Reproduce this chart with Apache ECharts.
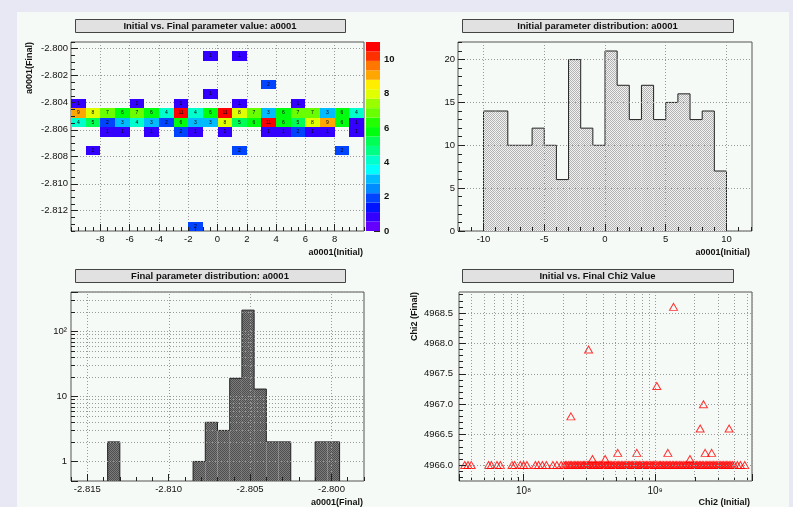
<!DOCTYPE html>
<html>
<head>
<meta charset="utf-8">
<script src="https://cdn.jsdelivr.net/npm/echarts@6/dist/echarts.min.js"></script>
<style>
  html, body { margin: 0; padding: 0; background: #e8e8f4; }
  #chart { width: 793px; height: 507px; }
</style>
</head>
<body>
<div id="chart"></div>
<script>
// ---------- data ----------
// initial parameter: 20 bins of width 1 between -10 and 10
const INIT_W = 1;
const initBinLow = [-10, -9, -8, -7, -6, -5, -4, -3, -2, -1, 0, 1, 2, 3, 4, 5, 6, 7, 8, 9];
const initCounts = [14, 14, 10, 10, 12, 10, 6, 20, 12, 10, 21, 17, 13, 17, 13, 15, 16, 13, 14, 7];

// 2D plot: final parameter rows (bin width 0.0007), one count per initial bin
const FINAL_W2D = 0.0007;
const finalRowLow = [-2.8135, -2.8079, -2.8065, -2.8058, -2.8051, -2.8044, -2.8037, -2.8030, -2.8009];
const finalRowCounts = [
  [0, 0, 0, 0, 0, 0, 0, 0, 2, 0, 0, 0, 0, 0, 0, 0, 0, 0, 0, 0],
  [0, 1, 0, 0, 0, 0, 0, 0, 0, 0, 0, 2, 0, 0, 0, 0, 0, 0, 2, 0],
  [0, 0, 1, 1, 0, 1, 0, 2, 1, 0, 1, 0, 0, 1, 1, 2, 1, 1, 0, 1],
  [4, 5, 2, 3, 4, 3, 2, 6, 3, 3, 8, 5, 6, 11, 6, 5, 8, 9, 6, 1],
  [9, 8, 7, 6, 7, 6, 4, 11, 4, 6, 11, 8, 7, 3, 6, 7, 7, 3, 6, 4],
  [1, 0, 0, 0, 1, 0, 0, 1, 0, 0, 0, 1, 0, 0, 0, 1, 0, 0, 0, 0],
  [0, 0, 0, 0, 0, 0, 0, 0, 0, 1, 0, 0, 0, 0, 0, 0, 0, 0, 0, 0],
  [0, 0, 0, 0, 0, 0, 0, 0, 0, 0, 0, 0, 0, 2, 0, 0, 0, 0, 0, 0],
  [0, 0, 0, 0, 0, 0, 0, 0, 0, 1, 0, 1, 0, 0, 0, 0, 0, 0, 0, 0]
];
const Z_MAX = 11;
const N_BANDS = 20;

// final parameter distribution (non-empty bins, width 0.00075)
const FINAL_W1D = 0.00075;
const finalBinLow = [-2.81375, -2.8085, -2.80775, -2.807, -2.80625, -2.8055, -2.80475, -2.804, -2.80325, -2.801, -2.80025];
const finalCounts = [2, 1, 4, 3, 19, 213, 13, 2, 2, 2, 2];

// chi2: initial vs final
const chi2FinalFlat = 4966.0;
const chi2InitialFlat = [
  3.57e7, 3.78e7, 4.0e7, 5.42e7, 5.69e7, 6.28e7, 6.66e7, 8.17e7, 8.55e7, 9.44e7,
  1.0e8, 1.06e8, 1.23e8, 1.3e8, 1.39e8, 1.49e8, 1.67e8, 1.79e8, 1.93e8,
  2.02e8, 2.08e8, 2.13e8, 2.2e8, 2.26e8, 2.31e8, 2.38e8, 2.45e8, 2.5e8, 2.57e8,
  2.63e8, 2.7e8, 2.78e8, 2.85e8, 2.9e8, 2.98e8, 3.05e8, 3.12e8, 3.2e8, 3.27e8,
  3.36e8, 3.44e8, 3.5e8, 3.6e8, 3.68e8, 3.77e8, 3.85e8, 3.95e8, 4.04e8, 4.15e8,
  4.24e8, 4.33e8, 4.45e8, 4.56e8, 4.67e8, 4.79e8, 4.9e8, 5.03e8, 5.15e8, 5.28e8,
  5.4e8, 5.55e8, 5.68e8, 5.82e8, 5.97e8, 6.1e8, 6.26e8, 6.4e8, 6.57e8, 6.72e8,
  6.9e8, 7.05e8, 7.24e8, 7.41e8, 7.6e8, 7.78e8, 7.98e8, 8.17e8, 8.38e8, 8.58e8,
  8.8e8, 9.02e8, 9.24e8, 9.47e8, 9.7e8, 9.94e8,
  1.02e9, 1.05e9, 1.08e9, 1.1e9, 1.13e9, 1.16e9, 1.19e9, 1.22e9, 1.25e9, 1.28e9,
  1.31e9, 1.35e9, 1.38e9, 1.42e9, 1.45e9, 1.49e9, 1.53e9, 1.57e9, 1.6e9, 1.65e9,
  1.69e9, 1.73e9, 1.78e9, 1.82e9, 1.87e9, 1.91e9, 1.96e9, 2.01e9, 2.06e9, 2.11e9,
  2.17e9, 2.22e9, 2.28e9, 2.33e9, 2.4e9, 2.46e9, 2.52e9, 2.58e9, 2.65e9, 2.71e9,
  2.78e9, 2.85e9, 2.92e9, 3.0e9, 3.07e9, 3.15e9, 3.23e9, 3.31e9, 3.4e9, 3.48e9,
  3.57e9, 3.66e9, 3.76e9, 3.87e9, 4.0e9, 4.22e9, 4.45e9, 4.8e9
];
const chi2InitialOut = [2.29e8, 3.12e8, 3.34e8, 4.17e8, 5.2e8, 7.26e8, 1.03e9, 1.25e9, 1.38e9, 1.84e9, 2.2e9, 2.33e9, 2.4e9, 2.69e9, 3.65e9];
const chi2FinalOut = [4966.8, 4967.9, 4966.1, 4966.1, 4966.2, 4966.2, 4967.3, 4966.2, 4968.6, 4966.1, 4966.6, 4967.0, 4966.2, 4966.2, 4966.6];

// tick labels / grid positions
const ticksHeatX = [-8, -6, -4, -2, 0, 2, 4, 6, 8];
const ticksHeatY = [-2.812, -2.810, -2.808, -2.806, -2.804, -2.802, -2.800];
const ticksBar = [0, 2, 4, 6, 8, 10];
const ticksInitX = [-10, -5, 0, 5, 10];
const ticksInitY = [0, 5, 10, 15, 20];
const ticksFinalX = [-2.815, -2.810, -2.805, -2.800];
const ticksChiY = [4966.0, 4966.5, 4967.0, 4967.5, 4968.0, 4968.5];
const logMajorBL = [1, 10, 100];
const logMinorBL = [2, 3, 4, 5, 6, 7, 8, 9, 20, 30, 40, 50, 60, 70, 80, 90, 200, 300, 400];
const logMinorBR = [4e7, 5e7, 6e7, 7e7, 8e7, 9e7, 2e8, 3e8, 4e8, 5e8, 6e8, 7e8, 8e8, 9e8, 2e9, 3e9, 4e9, 5e9];

// axis ranges
const BL_X = [-2.816, -2.798];
const BL_Y = [0.5, 405];
const BR_X = [3.23e7, 5.45e9];
const BR_Y = [4965.737, 4968.845];

// ---------- helpers ----------
const FONT = '"Liberation Sans", Arial, Helvetica, sans-serif';
const DOT = '#9a9a9a';
const GRID_LINE = { show: true, lineStyle: { color: DOT, type: [1, 2], width: 1 } };
const steps = (a, b, s) => {
  const out = [];
  for (let i = 0; a + i * s <= b + s * 1e-6; i++) out.push(+(a + i * s).toFixed(6));
  return out;
};
const sup = { 0: '\u2070', 1: '\u00b9', 2: '\u00b2', 8: '\u2078', 9: '\u2079' };
const logFmt = v => {
  const l = Math.log10(v), e = Math.round(l);
  if (Math.abs(l - e) > 1e-6) return '';
  if (e === 0) return '1';
  if (e === 1) return '10';
  return '10' + sup[e];
};

function mainAxis(gridIndex, min, max, ticks, fmt, extra) {
  return Object.assign({
    type: 'value', gridIndex, min, max, z: 5,
    axisLine: { show: false, onZero: false },
    axisTick: { show: true, inside: true, length: 7, customValues: ticks, lineStyle: { color: '#222' } },
    axisLabel: { customValues: ticks, formatter: fmt, fontFamily: FONT, fontSize: 9.5, color: '#111', margin: 3 },
    splitLine: GRID_LINE
  }, extra || {});
}
function minorAxis(gridIndex, min, max, ticks, position) {
  return {
    type: 'value', gridIndex, min, max, position, z: 5,
    axisLine: { show: false, onZero: false },
    axisTick: { show: true, inside: true, length: 4, customValues: ticks, lineStyle: { color: '#222' } },
    axisLabel: { show: false },
    splitLine: { show: false }
  };
}
function pattern(c1, c2) {
  const cv = document.createElement('canvas');
  cv.width = 2; cv.height = 2;
  const ctx = cv.getContext('2d');
  ctx.fillStyle = c2; ctx.fillRect(0, 0, 2, 2);
  ctx.fillStyle = c1; ctx.fillRect(0, 0, 1, 1); ctx.fillRect(1, 1, 1, 1);
  return { image: cv, repeat: 'repeat' };
}
// histogram bins -> [lo, hi, v, prev, next]
function histData(lows, counts, w, floor) {
  return lows.map((lo, i) => {
    const prevAdj = i > 0 && Math.abs(lows[i - 1] + w - lo) < w * 1e-3;
    const nextAdj = i < lows.length - 1 && Math.abs(lo + w - lows[i + 1]) < w * 1e-3;
    return [lo, +(lo + w).toFixed(6), counts[i], prevAdj ? counts[i - 1] : floor, nextAdj ? counts[i + 1] : floor];
  });
}
function histRender(fill, floor) {
  return (params, api) => {
    const lo = api.value(0), hi = api.value(1), v = api.value(2), pv = api.value(3), nv = api.value(4);
    const a = api.coord([lo, v]), b = api.coord([hi, floor]);
    const pp = api.coord([lo, pv]);
    const pts = [[a[0], pp[1]], a, [b[0], a[1]]];
    if (nv === floor) pts.push([b[0], b[1]]);
    return {
      type: 'group',
      children: [
        { type: 'rect', shape: { x: a[0], y: a[1], width: b[0] - a[0], height: b[1] - a[1] }, style: { fill } },
        { type: 'polyline', shape: { points: pts }, style: { stroke: '#222', lineWidth: 1, fill: null } }
      ]
    };
  };
}
const px = v => Math.round(v) + 0.5;

// ROOT-like 20 band palette
const bandW = Z_MAX / N_BANDS;
const pieces = [];
for (let k = 0; k < N_BANDS; k++) {
  const idx = Math.floor((k + 0.99) * 50 / N_BANDS);
  const hue = 280 - (idx + 1) * 5.6;
  pieces.push({ gte: k * bandW, lte: (k + 1) * bandW, color: `hsl(${hue.toFixed(1)},100%,50%)` });
}

const heatData = [];
finalRowLow.forEach((yLow, r) => finalRowCounts[r].forEach((n, i) => {
  if (n > 0) heatData.push([initBinLow[i], yLow, n]);
}));
const barData = pieces.map(p => [0, p.gte, p.lte, (p.gte + p.lte) / 2]);

const chiData = chi2InitialFlat.map(x => [x, chi2FinalFlat])
  .concat(chi2InitialOut.map((x, i) => [x, chi2FinalOut[i]]));

// ---------- layout helpers ----------
function titleBox(x, y, w, h, text) {
  return [
    { type: 'rect', shape: { x: x + 0.5, y: y + 0.5, width: w, height: h }, style: { fill: '#e1e1e1', stroke: '#444', lineWidth: 1 }, z: 10 },
    { type: 'text', x: x + w / 2, y: y + h / 2 + 1, z: 11,
      style: { text, font: 'bold 9.5px ' + FONT, fill: '#111', align: 'center', verticalAlign: 'middle', textAlign: 'center', textVerticalAlign: 'middle' } }
  ];
}
function axisTitle(x, y, text, rotate) {
  return { type: 'text', x, y, rotation: rotate ? Math.PI / 2 : 0, z: 11,
    style: { text, font: 'bold 9px ' + FONT, fill: '#111', align: 'right', verticalAlign: 'middle', textAlign: 'right', textVerticalAlign: 'middle' } };
}

const chart = echarts.init(document.getElementById('chart'), null, { renderer: 'canvas' });
chart.setOption({
  animation: false,
  backgroundColor: '#e8e8f4',
  graphic: [
    { type: 'rect', shape: { x: 17, y: 12, width: 772, height: 495 }, style: { fill: '#f6faf6' }, z: -100 },
    ...titleBox(75, 19, 270, 13, 'Initial vs. Final parameter value: a0001'),
    ...titleBox(462, 19, 271, 13, 'Initial parameter distribution: a0001'),
    ...titleBox(75, 269, 270, 13, 'Final parameter distribution: a0001'),
    ...titleBox(462, 269, 271, 13, 'Initial vs. Final Chi2 Value'),
    axisTitle(30, 42, 'a0001(Final)', true),
    axisTitle(363, 253, 'a0001(Initial)'),
    axisTitle(750, 253, 'a0001(Initial)'),
    axisTitle(363, 503, 'a0001(Final)'),
    axisTitle(415, 292, 'Chi2 (Final)', true),
    axisTitle(750, 503, 'Chi2 (Initial)')
  ],
  grid: [
    { left: 71, top: 42, width: 293, height: 189, show: true, borderColor: '#555', borderWidth: 1, backgroundColor: 'transparent' },
    { left: 366, top: 42, width: 14, height: 189, show: false },
    { left: 458, top: 42, width: 294, height: 189, show: true, borderColor: '#555', borderWidth: 1, backgroundColor: 'transparent' },
    { left: 71, top: 292, width: 293, height: 189, show: true, borderColor: '#555', borderWidth: 1, backgroundColor: 'transparent' },
    { left: 459, top: 292, width: 293, height: 189, show: true, borderColor: '#555', borderWidth: 1, backgroundColor: 'transparent' }
  ],
  xAxis: [
    mainAxis(0, -10, 10, ticksHeatX, v => String(v), { position: 'bottom', z: 0 }),
    minorAxis(0, -10, 10, steps(-10, 10, 0.5), 'bottom'),
    { type: 'value', gridIndex: 1, min: 0, max: 1, show: false },
    mainAxis(2, -12.1, 12.1, ticksInitX, v => String(v), { position: 'bottom' }),
    minorAxis(2, -12.1, 12.1, steps(-12, 12, 1), 'bottom'),
    mainAxis(3, BL_X[0], BL_X[1], ticksFinalX, v => v.toFixed(3), { position: 'bottom', splitLine: { show: false } }),
    minorAxis(3, BL_X[0], BL_X[1], steps(-2.816, -2.798, 0.001), 'bottom'),
    {
      type: 'log', logBase: 10, gridIndex: 4, min: BR_X[0], max: BR_X[1], position: 'bottom', z: 5,
      axisLine: { show: false, onZero: false },
      axisTick: { show: true, inside: true, length: 7, lineStyle: { color: '#222' } },
      axisLabel: { formatter: logFmt, fontFamily: FONT, fontSize: 10, color: '#111', margin: 5 },
      splitLine: GRID_LINE
    }
  ],
  yAxis: [
    mainAxis(0, -2.8135, -2.7995, ticksHeatY, v => v.toFixed(3), { position: 'left', z: 0 }),
    minorAxis(0, -2.8135, -2.7995, steps(-2.8135, -2.7995, 0.0005), 'left'),
    {
      type: 'value', gridIndex: 1, min: 0, max: Z_MAX, position: 'right',
      axisLine: { show: false, onZero: false },
      axisTick: { show: true, inside: true, length: 6, customValues: ticksBar, lineStyle: { color: '#222' } },
      axisLabel: { customValues: ticksBar, fontFamily: FONT, fontSize: 9.5, fontWeight: 'bold', color: '#111', margin: 4 },
      splitLine: { show: false }
    },
    mainAxis(2, 0, 22.05, ticksInitY, v => String(v), { position: 'left' }),
    minorAxis(2, 0, 22.05, steps(0, 22, 1), 'left'),
    {
      type: 'log', logBase: 10, gridIndex: 3, min: BL_Y[0], max: BL_Y[1], position: 'left', z: 5,
      axisLine: { show: false, onZero: false },
      axisTick: { show: true, inside: true, length: 7, lineStyle: { color: '#222' } },
      axisLabel: { formatter: logFmt, fontFamily: FONT, fontSize: 9.5, color: '#111', margin: 4 },
      splitLine: { show: false }
    },
    mainAxis(4, BR_Y[0], BR_Y[1], ticksChiY, v => v.toFixed(1), { position: 'left', axisLabel: { customValues: ticksChiY, formatter: v => v.toFixed(1), fontFamily: FONT, fontSize: 9.5, color: '#111', margin: 6 } }),
    minorAxis(4, BR_Y[0], BR_Y[1], steps(4965.8, 4968.8, 0.1), 'left')
  ],
  visualMap: [
    { type: 'piecewise', show: false, seriesIndex: 0, dimension: 2, pieces },
    { type: 'piecewise', show: false, seriesIndex: 1, dimension: 3, pieces }
  ],
  series: [
    {
      type: 'custom', xAxisIndex: 0, yAxisIndex: 0, data: heatData, encode: { x: 0, y: 1 }, z: 2,
      renderItem: (params, api) => {
        const x0 = api.value(0), y0 = api.value(1), n = api.value(2);
        const p0 = api.coord([x0, y0]), p1 = api.coord([x0 + INIT_W, y0 + FINAL_W2D]);
        const l = Math.round(p0[0]), r = Math.round(p1[0]), t = Math.round(p1[1]), b = Math.round(p0[1]);
        return {
          type: 'group',
          children: [
            { type: 'rect', shape: { x: l, y: t, width: r - l, height: b - t }, style: { fill: api.visual('color') } },
            { type: 'text', x: (l + r) / 2, y: (t + b) / 2,
              style: { text: String(n), font: '5px ' + FONT, fill: '#000', align: 'center', verticalAlign: 'middle', textAlign: 'center', textVerticalAlign: 'middle' } }
          ]
        };
      }
    },
    {
      type: 'custom', xAxisIndex: 2, yAxisIndex: 2, data: barData, encode: { x: 0, y: [1, 2] },
      renderItem: (params, api) => {
        const p0 = api.coord([0, api.value(1)]), p1 = api.coord([1, api.value(2)]);
        return { type: 'rect', shape: { x: p0[0], y: p1[1], width: p1[0] - p0[0], height: p0[1] - p1[1] }, style: { fill: api.visual('color') } };
      }
    },
    {
      type: 'custom', xAxisIndex: 3, yAxisIndex: 3, z: 2,
      data: histData(initBinLow, initCounts, INIT_W, 0), encode: { x: [0, 1], y: [2, 3, 4] },
      renderItem: histRender(pattern('#b2b2b2', '#f2f2f2'), 0)
    },
    {
      type: 'custom', xAxisIndex: 5, yAxisIndex: 5, z: 2,
      data: histData(finalBinLow, finalCounts, FINAL_W1D, BL_Y[0]), encode: { x: [0, 1], y: [2, 3, 4] },
      renderItem: histRender(pattern('#4e4e4e', '#7c7c7c'), BL_Y[0])
    },
    {
      // log-scale horizontal grid (major + minor) with minor ticks for the final distribution
      type: 'custom', xAxisIndex: 5, yAxisIndex: 5, z: 3, silent: true,
      data: logMajorBL.map(v => [BL_X[0], v, 0]).concat(logMinorBL.map(v => [BL_X[0], v, 1])),
      encode: { x: 0, y: 1 },
      renderItem: (params, api) => {
        const v = api.value(1), minor = api.value(2) === 1;
        const a = api.coord([BL_X[0], v]), b = api.coord([BL_X[1], v]);
        const y = px(a[1]);
        const kids = [{ type: 'line', shape: { x1: a[0], y1: y, x2: b[0], y2: y }, style: { stroke: DOT, lineDash: [1, 2], lineWidth: 1 } }];
        if (minor) kids.push({ type: 'line', shape: { x1: a[0], y1: y, x2: a[0] + 4, y2: y }, style: { stroke: '#222', lineWidth: 1 } });
        return { type: 'group', children: kids };
      }
    },
    {
      // vertical grid of the final distribution
      type: 'custom', xAxisIndex: 5, yAxisIndex: 5, z: 3, silent: true,
      data: ticksFinalX.map(v => [v, BL_Y[0]]), encode: { x: 0, y: 1 },
      renderItem: (params, api) => {
        const v = api.value(0);
        const a = api.coord([v, BL_Y[0]]), b = api.coord([v, BL_Y[1]]);
        const x = px(a[0]);
        return { type: 'line', shape: { x1: x, y1: a[1], x2: x, y2: b[1] }, style: { stroke: DOT, lineDash: [1, 2], lineWidth: 1 } };
      }
    },
    {
      type: 'scatter', xAxisIndex: 7, yAxisIndex: 6, data: chiData, z: 3,
      symbol: 'triangle', symbolSize: [8, 7],
      itemStyle: { color: 'rgba(0,0,0,0)', borderColor: '#ff0000', borderWidth: 1 },
      markLine: {
        silent: true, symbol: 'none', animation: false, label: { show: false },
        lineStyle: { color: DOT, type: [1, 2], width: 1 },
        data: logMinorBR.map(v => ({ xAxis: v }))
      }
    },
    {
      // minor ticks of the log chi2 axis
      type: 'custom', xAxisIndex: 7, yAxisIndex: 6, z: 4, silent: true,
      data: logMinorBR.map(v => [v, BR_Y[0]]), encode: { x: 0, y: 1 },
      renderItem: (params, api) => {
        const a = api.coord([api.value(0), BR_Y[0]]);
        const x = px(a[0]);
        return { type: 'line', shape: { x1: x, y1: a[1], x2: x, y2: a[1] - 4 }, style: { stroke: '#222', lineWidth: 1 } };
      }
    }
  ]
});
window.addEventListener('resize', () => chart.resize());
</script>
</body>
</html>
